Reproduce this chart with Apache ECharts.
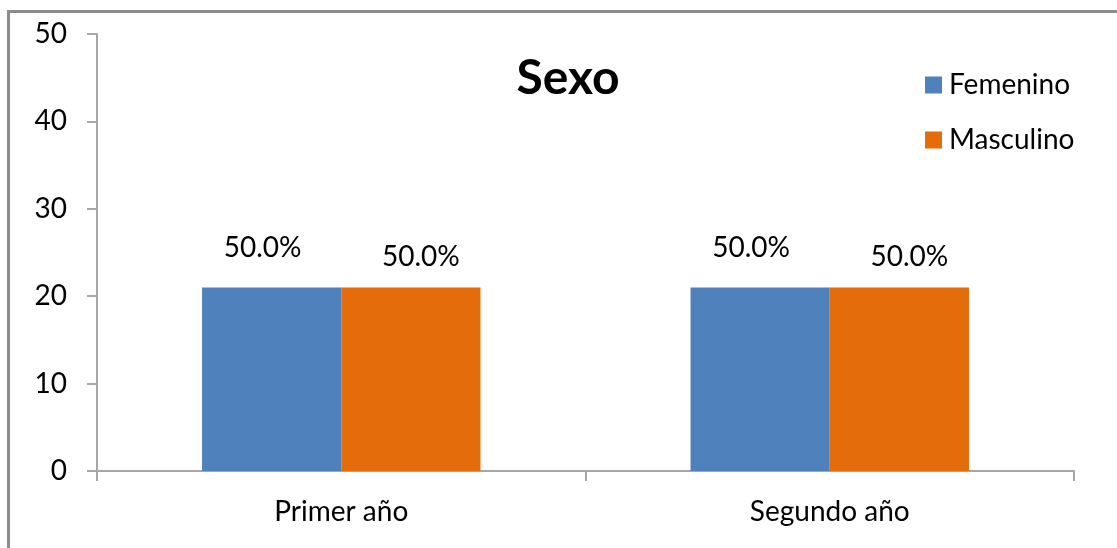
<!DOCTYPE html>
<html>
<head>
<meta charset="utf-8">
<script src="https://cdn.jsdelivr.net/npm/echarts@6/dist/echarts.min.js"></script>
<style>
html,body{margin:0;padding:0;background:#fff;}
#c{width:1117px;height:548px;}
#frame{position:absolute;left:7px;top:10px;width:1110px;height:538px;border-top:3px solid #8c8c8c;border-left:3px solid #8c8c8c;pointer-events:none;}
</style>
</head>
<body>
<div id="c"></div>
<div id="frame"></div>
<script>
const categories = ["Primer año", "Segundo año"];
const femenino = [21, 21];
const masculino = [21, 21];
const femeninoLabels = ["50.0%", "50.0%"];
const masculinoLabels = ["50.0%", "50.0%"];
const yTicks = {min: 0, max: 50, interval: 10};

const font = "Lato, 'Open Sans', sans-serif";
const fs = 28;
const chart = echarts.init(document.getElementById('c'));
chart.setOption({
  animation: false,
  textStyle: {fontFamily: font},
  title: {
    text: "Sexo", left: 563, top: 50, textAlign: 'center',
    textStyle: {fontSize: 48, fontWeight: 'bold', color: '#000', fontFamily: font}
  },
  legend: {
    orient: 'vertical', left: 920, top: 66, itemWidth: 17, itemHeight: 17, itemGap: 27,
    icon: 'rect',
    textStyle: {fontSize: fs, color: '#000', fontFamily: font, padding: [0,0,0,2]},
    data: ["Femenino", "Masculino"]
  },
  grid: {left: 97, right: 43, top: 34, bottom: 77},
  xAxis: {
    type: 'category', data: categories,
    axisLine: {lineStyle: {color: '#a6a6a6', width: 2}},
    axisTick: {show: true, length: 10, inside: false, lineStyle: {color: '#a6a6a6', width: 2}},
    axisLabel: {fontSize: fs, color: '#000', margin: 27, fontFamily: font}
  },
  yAxis: {
    type: 'value', min: yTicks.min, max: yTicks.max, interval: yTicks.interval,
    splitLine: {show: false},
    axisLine: {show: true, lineStyle: {color: '#a6a6a6', width: 2}},
    axisTick: {show: true, length: 10, lineStyle: {color: '#a6a6a6', width: 2}},
    axisLabel: {fontSize: fs, color: '#000', margin: 30, fontFamily: font}
  },
  series: [
    {
      name: "Femenino", type: 'bar', data: femenino, barGap: '0%', barCategoryGap: '43%',
      itemStyle: {color: '#4F81BD'},
      label: {show: true, position: 'top', distance: 25, offset: [-9, 0], fontSize: fs, color: '#000', fontFamily: font,
        formatter: p => femeninoLabels[p.dataIndex]}
    },
    {
      name: "Masculino", type: 'bar', data: masculino, barGap: '0%', barCategoryGap: '43%',
      itemStyle: {color: '#E46C0A'},
      label: {show: true, position: 'top', distance: 16, offset: [10, 0], fontSize: fs, color: '#000', fontFamily: font,
        formatter: p => masculinoLabels[p.dataIndex]}
    }
  ]
});
</script>
</body>
</html>
